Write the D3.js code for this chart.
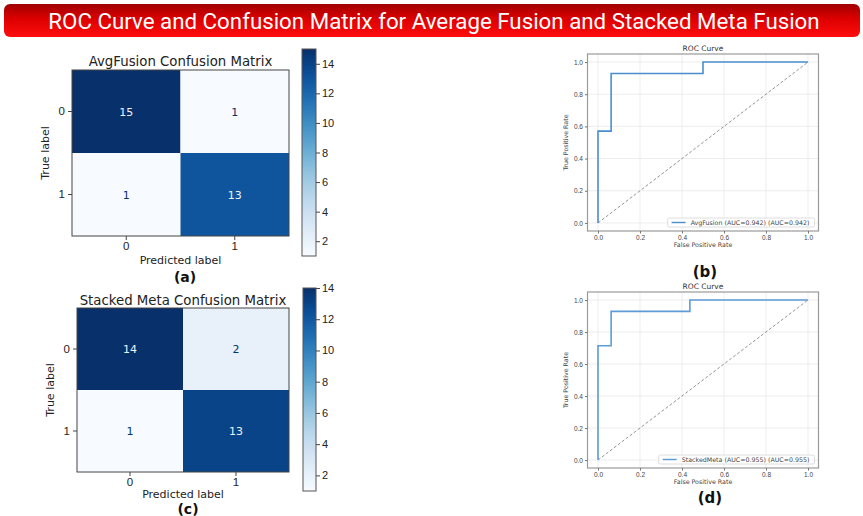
<!DOCTYPE html>
<html>
<head>
<meta charset="utf-8">
<script src="https://cdn.jsdelivr.net/npm/d3@7"></script>
<style>
  body { margin: 0; background: #fff; }
  svg { display: block; font-family: "DejaVu Sans", sans-serif; }
</style>
</head>
<body>
<div id="chart"></div>
<script>
// ---------- data ----------
var classLabels   = ['0', '1'];
var avgMatrix     = [[15, 1], [1, 13]];
var stackMatrix   = [[14, 2], [1, 13]];
var cbarTicks     = [2, 4, 6, 8, 10, 12, 14];
var rocTicks      = [0, 0.2, 0.4, 0.6, 0.8, 1.0];

// roc steps (fpr / tpr)
var avgFpr   = [0, 0, 0.0625, 0.0625, 0.5, 0.5, 1];
var avgTpr   = [0, 0.571, 0.571, 0.929, 0.929, 1, 1];
var stackFpr = [0, 0, 0.0625, 0.0625, 0.4375, 0.4375, 1];
var stackTpr = [0, 0.714, 0.714, 0.929, 0.929, 1, 1];

var mainTitle = 'ROC Curve and Confusion Matrix for Average Fusion and Stacked Meta Fusion';

var W = 863, H = 516;
var svg = d3.select('#chart').append('svg').attr('width', W).attr('height', H);
svg.append('rect').attr('width', W).attr('height', H).attr('fill', '#fff');

var defs = svg.append('defs');

//--------------title banner
var bannerGrad = defs.append('linearGradient').attr('id', 'bannerGrad')
  .attr('x1', 0).attr('y1', 0).attr('x2', 0).attr('y2', 1);
bannerGrad.append('stop').attr('offset', '0%').attr('stop-color', '#a00000');
bannerGrad.append('stop').attr('offset', '45%').attr('stop-color', '#dc0000');
bannerGrad.append('stop').attr('offset', '100%').attr('stop-color', '#ff0d0d');

svg.append('rect')
  .attr('x', 4).attr('y', 4).attr('width', 856).attr('height', 33)
  .attr('rx', 6)
  .attr('fill', 'url(#bannerGrad)');

var titleEl = svg.append('text')
  .attr('x', 434).attr('y', 28.5)
  .attr('text-anchor', 'middle')
  .attr('fill', '#fff')
  .style('font-family', 'Roboto, sans-serif')
  .style('font-size', '20px')
  .text(mainTitle);
// fit the title to the banner text width
var tLen = titleEl.node().getComputedTextLength();
titleEl.style('font-size', (20 * 772 / tLen) + 'px');

//--------------confusion matrix panel
function drawMatrix(cfg) {
  var matrix = cfg.matrix;
  var flat = [];
  matrix.forEach(function (row, i) {
    row.forEach(function (v, j) { flat.push({ r: i, c: j, v: v }); });
  });
  var ext = d3.extent(flat, function (d) { return d.v; });

  var xScale = d3.scaleBand().domain(classLabels).range([cfg.x0, cfg.x1]);
  var yScale = d3.scaleBand().domain(classLabels).range([cfg.y0, cfg.y1]);
  var color  = d3.scaleSequential(d3.interpolateBlues).domain(ext);
  var mid    = (ext[0] + ext[1]) / 2;

  var g = svg.append('g');

  g.selectAll('rect.cell')
    .data(flat)
    .enter()
    .append('rect')
    .attr('class', 'cell')
    .attr('x', function (d) { return xScale(classLabels[d.c]); })
    .attr('y', function (d) { return yScale(classLabels[d.r]); })
    .attr('width', xScale.bandwidth())
    .attr('height', yScale.bandwidth())
    .attr('fill', function (d) { return color(d.v); });

  g.selectAll('text.val')
    .data(flat)
    .enter()
    .append('text')
    .attr('class', 'val')
    .attr('x', function (d) { return xScale(classLabels[d.c]) + xScale.bandwidth() / 2; })
    .attr('y', function (d) { return yScale(classLabels[d.r]) + yScale.bandwidth() / 2 + 4; })
    .attr('text-anchor', 'middle')
    .style('font-size', '11px')
    .attr('fill', function (d) { return d.v > mid ? '#eef3fa' : '#08306b'; })
    .text(function (d) { return d.v; });

  // frame
  g.append('rect')
    .attr('x', cfg.x0).attr('y', cfg.y0)
    .attr('width', cfg.x1 - cfg.x0).attr('height', cfg.y1 - cfg.y0)
    .attr('fill', 'none').attr('stroke', '#444').attr('stroke-width', 1);

  // axes
  var xAxis = d3.axisBottom(xScale).tickSize(4).tickPadding(2);
  var yAxis = d3.axisLeft(yScale).tickSize(4).tickPadding(3);
  var xAxisEl = g.append('g').attr('transform', 'translate(0,' + cfg.y1 + ')').call(xAxis);
  var yAxisEl = g.append('g').attr('transform', 'translate(' + cfg.x0 + ',0)').call(yAxis);
  [xAxisEl, yAxisEl].forEach(function (a) {
    a.select('.domain').remove();
    a.selectAll('line').attr('stroke', '#444');
    a.selectAll('text').style('font-size', '11.5px').attr('fill', '#222');
  });

  var cx = (cfg.x0 + cfg.x1) / 2, cy = (cfg.y0 + cfg.y1) / 2;

  g.append('text')
    .attr('x', cx).attr('y', cfg.titleY)
    .attr('text-anchor', 'middle')
    .style('font-size', '13.3px').attr('fill', '#222')
    .text(cfg.title);

  g.append('text')
    .attr('x', cx).attr('y', cfg.xLabelY)
    .attr('text-anchor', 'middle')
    .style('font-size', '11px').attr('fill', '#222')
    .text('Predicted label');

  g.append('text')
    .attr('transform', 'translate(' + cfg.yLabelX + ',' + cy + ') rotate(-90)')
    .attr('text-anchor', 'middle')
    .style('font-size', '11px').attr('fill', '#222')
    .text('True label');

  g.append('text')
    .attr('x', cfg.tagX).attr('y', cfg.tagY)
    .attr('text-anchor', 'middle')
    .style('font-size', '14px').style('font-weight', 'bold').attr('fill', '#111')
    .text(cfg.tag);

  // colorbar
  var cb = cfg.cbar;
  var cbScale = d3.scaleLinear().domain(ext).range([cb.y1, cb.y0]);
  var gradId = 'cbGrad' + cfg.tag.replace(/\W/g, '');
  var grad = defs.append('linearGradient').attr('id', gradId)
    .attr('x1', 0).attr('y1', 1).attr('x2', 0).attr('y2', 0);
  d3.range(0, 1.0001, 0.05).forEach(function (t) {
    grad.append('stop').attr('offset', (t * 100) + '%').attr('stop-color', d3.interpolateBlues(t));
  });
  g.append('rect')
    .attr('x', cb.x0).attr('y', cb.y0)
    .attr('width', cb.x1 - cb.x0).attr('height', cb.y1 - cb.y0)
    .attr('fill', 'url(#' + gradId + ')')
    .attr('stroke', '#555').attr('stroke-width', 1);

  var cbAxis = d3.axisRight(cbScale).tickValues(cbarTicks.filter(function (t) { return t <= ext[1]; }))
    .tickSize(4).tickPadding(2);
  var cbAxisEl = g.append('g').attr('transform', 'translate(' + cb.x1 + ',0)').call(cbAxis);
  cbAxisEl.select('.domain').remove();
  cbAxisEl.selectAll('line').attr('stroke', '#444');
  cbAxisEl.selectAll('text').style('font-size', '11px').attr('fill', '#222');
}

//--------------roc panel
function drawRoc(cfg) {
  var xScale = d3.scaleLinear().domain([-0.05, 1.05]).range([cfg.x0, cfg.x1]);
  var yScale = d3.scaleLinear().domain([-0.05, 1.05]).range([cfg.y1, cfg.y0]);
  var g = svg.append('g');

  // grid
  g.selectAll('line.gx').data(rocTicks).enter().append('line')
    .attr('x1', function (d) { return xScale(d); }).attr('x2', function (d) { return xScale(d); })
    .attr('y1', cfg.y0).attr('y2', cfg.y1)
    .attr('stroke', '#e8e8e8').attr('stroke-width', 0.8);
  g.selectAll('line.gy').data(rocTicks).enter().append('line')
    .attr('y1', function (d) { return yScale(d); }).attr('y2', function (d) { return yScale(d); })
    .attr('x1', cfg.x0).attr('x2', cfg.x1)
    .attr('stroke', '#e8e8e8').attr('stroke-width', 0.8);

  // chance line
  g.append('line')
    .attr('x1', xScale(0)).attr('y1', yScale(0))
    .attr('x2', xScale(1)).attr('y2', yScale(1))
    .attr('stroke', '#888').attr('stroke-width', 0.9)
    .attr('stroke-dasharray', '3,2');

  var pts = cfg.fpr.map(function (f, i) { return [f, cfg.tpr[i]]; });
  var line = d3.line()
    .x(function (d) { return xScale(d[0]); })
    .y(function (d) { return yScale(d[1]); });
  g.append('path').datum(pts)
    .attr('d', line)
    .attr('fill', 'none')
    .attr('stroke', cfg.color).attr('stroke-width', 1.6);

  // frame
  g.append('rect')
    .attr('x', cfg.x0).attr('y', cfg.y0)
    .attr('width', cfg.x1 - cfg.x0).attr('height', cfg.y1 - cfg.y0)
    .attr('fill', 'none').attr('stroke', '#9a9a9a').attr('stroke-width', 1.2);

  var xAxis = d3.axisBottom(xScale).tickValues(rocTicks).tickFormat(d3.format('.1f')).tickSize(2.5).tickPadding(2);
  var yAxis = d3.axisLeft(yScale).tickValues(rocTicks).tickFormat(d3.format('.1f')).tickSize(2.5).tickPadding(2);
  var xAxisEl = g.append('g').attr('transform', 'translate(0,' + cfg.y1 + ')').call(xAxis);
  var yAxisEl = g.append('g').attr('transform', 'translate(' + cfg.x0 + ',0)').call(yAxis);
  [xAxisEl, yAxisEl].forEach(function (a) {
    a.select('.domain').remove();
    a.selectAll('line').attr('stroke', '#777');
    a.selectAll('text').style('font-size', '6.5px').attr('fill', '#444');
  });

  var cx = (cfg.x0 + cfg.x1) / 2, cy = (cfg.y0 + cfg.y1) / 2;
  g.append('text').attr('x', cx).attr('y', cfg.y0 - 3)
    .attr('text-anchor', 'middle').style('font-size', '7.5px').attr('fill', '#333')
    .text('ROC Curve');
  g.append('text').attr('x', cx).attr('y', cfg.y1 + 16)
    .attr('text-anchor', 'middle').style('font-size', '6.3px').attr('fill', '#444')
    .text('False Positive Rate');
  g.append('text')
    .attr('transform', 'translate(' + (cfg.x0 - 20) + ',' + cy + ') rotate(-90)')
    .attr('text-anchor', 'middle').style('font-size', '6.3px').attr('fill', '#444')
    .text('True Positive Rate');

  g.append('text').attr('x', cfg.tagX).attr('y', cfg.tagY)
    .attr('text-anchor', 'middle')
    .style('font-size', '15px').style('font-weight', 'bold').attr('fill', '#111')
    .text(cfg.tag);

  // legend, lower right
  var leg = g.append('g');
  var legText = leg.append('text')
    .style('font-size', '6.3px').attr('fill', '#444')
    .text(cfg.legend);
  var tw = legText.node().getComputedTextLength();
  var lw = tw + 28, lh = 9;
  var lx = cfg.x1 - 4 - lw, ly = cfg.y1 - 4 - lh;
  leg.insert('rect', 'text')
    .attr('x', lx).attr('y', ly).attr('width', lw).attr('height', lh)
    .attr('rx', 1.5)
    .attr('fill', '#fff').attr('fill-opacity', 0.85)
    .attr('stroke', '#d6d6d6').attr('stroke-width', 0.8);
  leg.append('line')
    .attr('x1', lx + 4).attr('x2', lx + 18)
    .attr('y1', ly + lh / 2).attr('y2', ly + lh / 2)
    .attr('stroke', cfg.color).attr('stroke-width', 1.4);
  legText.attr('x', lx + 23).attr('y', ly + lh / 2 + 2.2);
}

drawMatrix({
  matrix: avgMatrix, title: 'AvgFusion Confusion Matrix', tag: '(a)',
  x0: 72, x1: 289, y0: 70, y1: 236,
  titleY: 66, xLabelY: 264, yLabelX: 49, tagX: 185, tagY: 282,
  cbar: { x0: 302, x1: 316, y0: 49, y1: 256 }
});

drawMatrix({
  matrix: stackMatrix, title: 'Stacked Meta Confusion Matrix', tag: '(c)',
  x0: 77, x1: 289, y0: 308, y1: 472,
  titleY: 305, xLabelY: 497.5, yLabelX: 54, tagX: 188, tagY: 514,
  cbar: { x0: 303, x1: 316, y0: 288, y1: 491 }
});

drawRoc({
  fpr: avgFpr, tpr: avgTpr, color: '#4a8ecf',
  legend: 'AvgFusion (AUC=0.942) (AUC=0.942)', tag: '(b)',
  x0: 587.5, x1: 818.5, y0: 54, y1: 231, tagX: 705, tagY: 277
});

drawRoc({
  fpr: stackFpr, tpr: stackTpr, color: '#5d9bd6',
  legend: 'StackedMeta (AUC=0.955) (AUC=0.955)', tag: '(d)',
  x0: 587.5, x1: 818.5, y0: 292, y1: 468, tagX: 710, tagY: 503
});
</script>
</body>
</html>
